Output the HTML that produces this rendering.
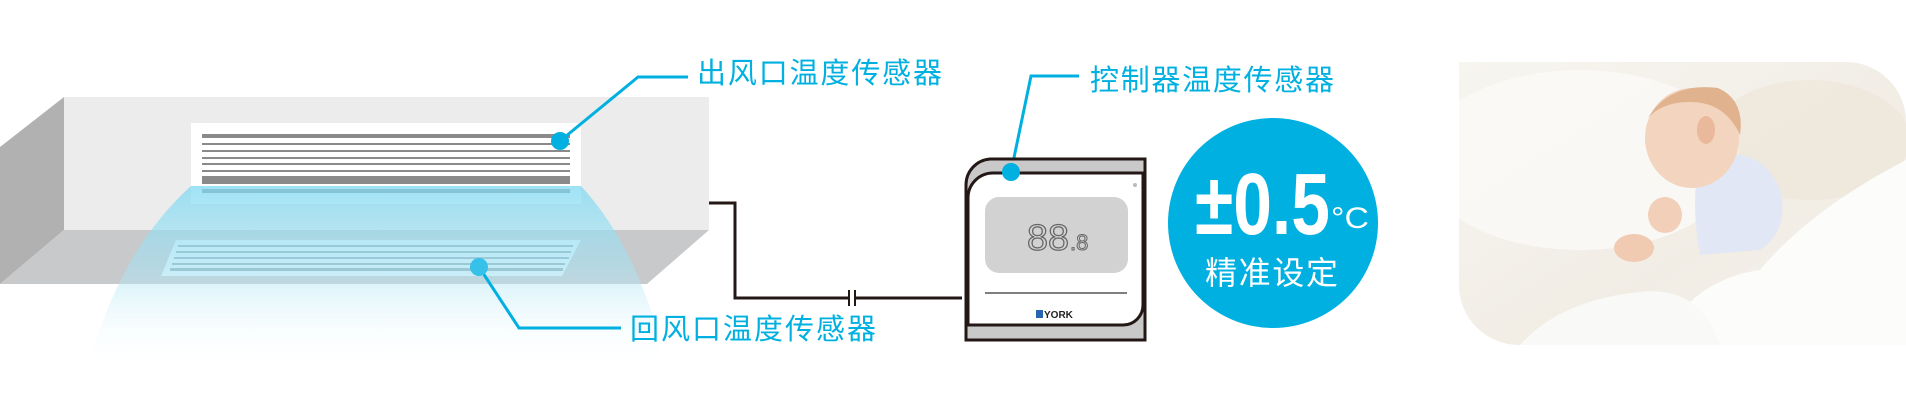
<!DOCTYPE html>
<html><head><meta charset="utf-8"><style>
html,body{margin:0;padding:0;background:#fff;width:1906px;height:403px;overflow:hidden}
svg{display:block}
.t{font-family:"Liberation Sans","Noto Sans CJK SC",sans-serif}
</style></head><body>
<svg width="1906" height="403" viewBox="0 0 1906 403" xmlns="http://www.w3.org/2000/svg">
<defs>
<linearGradient id="beam" x1="0" y1="0" x2="0" y2="1">
<stop offset="0" stop-color="#7fd9f2" stop-opacity="0.75"/>
<stop offset="0.45" stop-color="#a6e3f4" stop-opacity="0.55"/>
<stop offset="1" stop-color="#ffffff" stop-opacity="0"/>
</linearGradient>
<linearGradient id="bed" x1="0" y1="0" x2="1" y2="1">
<stop offset="0" stop-color="#f7f5f0"/><stop offset="0.6" stop-color="#f1ede5"/><stop offset="1" stop-color="#f6f4ef"/>
</linearGradient>
<clipPath id="pc"><path d="M1459 62 H1846 A60 60 0 0 1 1906 122 V345 H1519 A60 60 0 0 1 1459 285 Z"/></clipPath>
</defs>

<!-- unit -->
<polygon points="0,147 64,97 64,230 0,284" fill="#b1b1b1"/>
<rect x="64" y="97" width="645" height="133" fill="#ececec"/>
<polygon points="0,284 64,230 709,230 647,284" fill="#c8c9cb"/>
<rect x="191" y="123" width="390" height="81" fill="#fff"/>
<g fill="#8a8a8a">
<rect x="202" y="134" width="368" height="4"/>
<rect x="202" y="143" width="368" height="2"/>
<rect x="202" y="150" width="368" height="2"/>
<rect x="202" y="157" width="368" height="2"/>
<rect x="202" y="163" width="368" height="2"/>
<rect x="202" y="170" width="368" height="2"/>
<rect x="202" y="176" width="368" height="8"/>
<rect x="202" y="189" width="368" height="4"/>
</g>
<polygon points="176,240 581,240 562,276 161,276" fill="#e8f6fb"/>
<g fill="#8fa9b0">
<rect x="178" y="245" width="395" height="2"/>
<rect x="176" y="251" width="395" height="2"/>
<rect x="174" y="257" width="395" height="2"/>
<rect x="172" y="263" width="393" height="2"/>
<rect x="170" y="268" width="393" height="3"/>
</g>
<path d="M191 186 L581 186 Q640 250 667 367 L88 367 Q120 250 191 186 Z" fill="url(#beam)"/>

<!-- leaders -->
<g stroke="#00b0e0" stroke-width="3" fill="none">
<polyline points="560,141 638,77 688,77"/>
<polyline points="479,267 519,328 621,328"/>
<polyline points="1011,172 1031,76 1079,76"/>
</g>
<ellipse cx="560" cy="141" rx="9" ry="9" fill="#00b0e0"/>
<ellipse cx="479" cy="267" rx="9" ry="9" fill="#35c1ea"/>
<circle cx="1011" cy="172" r="9" fill="#00b0e0"/>
<text class="t" x="697" y="83" font-size="29" fill="#00b0e0" textLength="245">出风口温度传感器</text>
<text class="t" x="630" y="339" font-size="29" fill="#00b0e0" textLength="246">回风口温度传感器</text>
<text class="t" x="1090" y="90" font-size="29" fill="#00b0e0" textLength="244">控制器温度传感器</text>

<!-- wire -->
<polyline points="709,203 735,203 735,298 962,298" fill="none" stroke="#231815" stroke-width="3"/>
<rect x="849" y="290" width="6" height="16" fill="#fff"/>
<line x1="849" y1="290" x2="849" y2="306" stroke="#231815" stroke-width="2"/>
<line x1="855" y1="290" x2="855" y2="306" stroke="#231815" stroke-width="2"/>

<!-- controller -->
<path d="M990 159 H1145 V340 H966 V185 A26 26 0 0 1 990 159 Z" fill="#c9c9c9" stroke="#231815" stroke-width="3"/>
<path d="M993 173 H1143 V305 A20 20 0 0 1 1123 325 H968 V198 A25 25 0 0 1 993 173 Z" fill="#fff" stroke="#231815" stroke-width="3"/>
<circle cx="1011" cy="172" r="9" fill="#00b0e0"/>
<circle cx="1135" cy="185" r="2" fill="#bbb"/>
<rect x="985" y="197" width="143" height="76" rx="14" fill="#d2d2d2"/>
<text class="t" x="1027" y="250" font-size="36" fill="#d2d2d2" stroke="#666" stroke-width="1.2" textLength="42" lengthAdjust="spacingAndGlyphs">88</text>
<text class="t" x="1070" y="250" font-size="22" fill="#d2d2d2" stroke="#666" stroke-width="1">.8</text>
<line x1="985" y1="293" x2="1127" y2="293" stroke="#555" stroke-width="1.5"/>
<rect x="1036" y="310" width="7" height="8" fill="#2a64b0"/>
<text class="t" x="1044" y="318" font-size="10" font-weight="bold" fill="#222">YORK</text>

<!-- badge -->
<circle cx="1273" cy="223" r="105" fill="#00b0e0"/>
<g transform="translate(1195,234) scale(1,1.15)">
<text class="t" x="0" y="0" font-size="76" font-weight="bold" fill="#fff" textLength="135" lengthAdjust="spacingAndGlyphs">±0.5</text>
</g>
<text class="t" x="1331" y="228" font-size="30" fill="#fff" textLength="38" lengthAdjust="spacingAndGlyphs">°C</text>
<text class="t" x="1205" y="284" font-size="32" fill="#fff" textLength="133">精准设定</text>

<!-- photo -->
<g clip-path="url(#pc)">
<rect x="1459" y="62" width="447" height="283" fill="url(#bed)"/>
<ellipse cx="1580" cy="160" rx="160" ry="90" fill="#fbfaf7" opacity="0.8"/>
<ellipse cx="1810" cy="140" rx="100" ry="60" fill="#ece4d7" opacity="0.6"/>
<path d="M1700 160 Q1760 140 1780 190 Q1790 230 1760 250 L1700 255 Q1690 200 1700 160 Z" fill="#e2e7f5"/>
<ellipse cx="1665" cy="215" rx="17" ry="18" fill="#f1cfb8"/>
<ellipse cx="1634" cy="248" rx="20" ry="14" fill="#f0cbb2"/>
<ellipse cx="1692" cy="138" rx="47" ry="50" fill="#f3d4bf"/>
<path d="M1648 118 Q1670 82 1718 88 Q1745 100 1740 135 Q1725 102 1690 102 Q1662 102 1648 118 Z" fill="#e0b28e"/>
<ellipse cx="1706" cy="130" rx="9" ry="14" fill="#eab89a"/>
<path d="M1660 345 Q1690 280 1760 270 Q1810 210 1906 160 V345 Z" fill="#fcfcfb"/>
<path d="M1520 345 Q1560 300 1640 292 Q1700 285 1720 345 Z" fill="#f9f9f7"/>
</g>
</svg>
</body></html>
